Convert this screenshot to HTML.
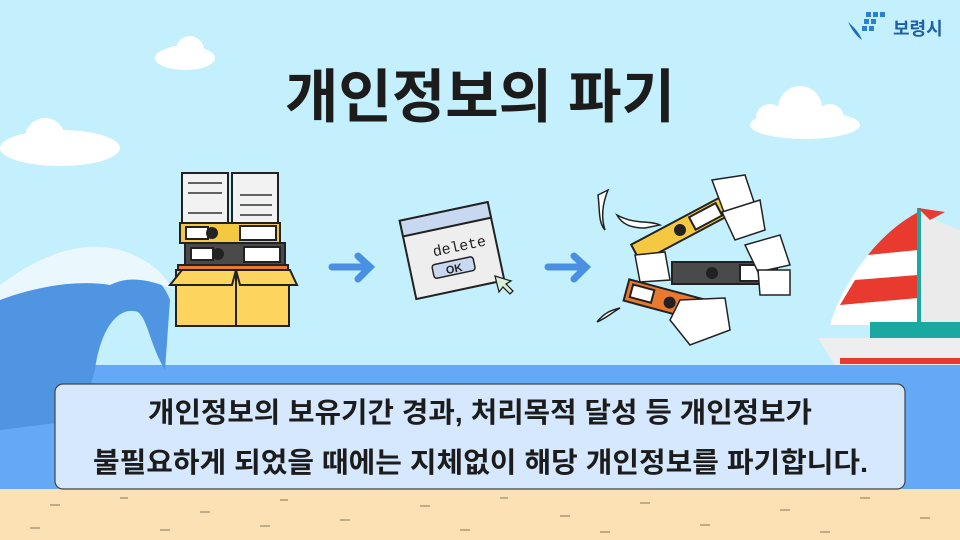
<!DOCTYPE html>
<html><head><meta charset="utf-8"><style>
html,body{margin:0;padding:0;width:960px;height:540px;overflow:hidden;background:#c4f0fd}
svg{display:block}
</style></head><body>
<svg width="960" height="540" viewBox="0 0 960 540" xmlns="http://www.w3.org/2000/svg" font-family="'Liberation Sans','Noto Sans CJK KR',sans-serif">
<rect width="960" height="540" fill="#c4f0fd"/>
<g fill="#ffffff">
<ellipse cx="185" cy="58" rx="30" ry="12"/><circle cx="190" cy="50" r="14"/><circle cx="175" cy="56" r="10"/>
<ellipse cx="805" cy="125" rx="55" ry="14"/><circle cx="800" cy="108" r="22"/><circle cx="830" cy="118" r="14"/><circle cx="770" cy="118" r="14"/>
<ellipse cx="60" cy="148" rx="60" ry="18"/><circle cx="45" cy="138" r="20"/><circle cx="80" cy="145" r="14"/>
</g>
<rect x="0" y="365" width="960" height="125" fill="#64a9f5"/>
<path d="M0 290 C40 250 90 240 130 260 C150 270 165 285 170 300 L165 370 C150 345 148 320 138 312 C118 305 100 330 95 370 L80 420 L0 430 Z" fill="#4f95e2"/>
<path d="M0 285 C40 255 80 240 120 250 C140 256 160 268 170 285 L175 290 C150 280 130 275 110 285 C80 280 40 285 0 300 Z" fill="#eaf8fe"/>
<rect x="0" y="489" width="960" height="51" fill="#fbe1b3"/>
<g stroke="#9c9070" stroke-width="1.3">
<line x1="50" y1="505" x2="60" y2="505"/><line x1="120" y1="498" x2="128" y2="498"/><line x1="200" y1="512" x2="210" y2="512"/><line x1="280" y1="500" x2="288" y2="500"/><line x1="340" y1="520" x2="350" y2="520"/><line x1="420" y1="506" x2="430" y2="506"/><line x1="500" y1="498" x2="508" y2="498"/><line x1="560" y1="516" x2="570" y2="516"/><line x1="640" y1="503" x2="650" y2="503"/><line x1="700" y1="525" x2="710" y2="525"/><line x1="780" y1="510" x2="790" y2="510"/><line x1="860" y1="498" x2="870" y2="498"/><line x1="920" y1="518" x2="930" y2="518"/><line x1="30" y1="528" x2="40" y2="528"/><line x1="160" y1="530" x2="170" y2="530"/><line x1="260" y1="526" x2="270" y2="526"/><line x1="460" y1="530" x2="470" y2="530"/><line x1="600" y1="532" x2="610" y2="532"/><line x1="820" y1="532" x2="830" y2="532"/>
</g>
<path d="M918 212 L918 325 L830 325 C840 290 870 240 918 212Z" fill="#ffffff"/>
<path d="M918 212 C895 225 880 240 868 255 L918 250Z M855 280 L918 275 L918 298 L840 305Z" fill="#e83a2e"/>
<path d="M922 215 L960 230 L960 325 L922 325Z" fill="#ebebeb"/>
<rect x="917" y="208" width="4" height="120" fill="#1aa8a0"/>
<path d="M918 208 L945 212 L930 220Z" fill="#e83a2e"/>
<rect x="870" y="322" width="90" height="16" fill="#1aa8a0"/>
<path d="M818 338 L960 338 L960 365 L835 365Z" fill="#eeeeee"/>
<rect x="840" y="358" width="120" height="6" fill="#e83a2e"/>
<path d="M848 22 C855 28 860 34 862 40 C856 36 852 30 848 22Z" fill="#1f6fb8"/>
<g fill="#2d7fd0"><rect x="866" y="12" width="5" height="5"/><rect x="873" y="12" width="5" height="5"/><rect x="880" y="12" width="5" height="5"/><rect x="864" y="19" width="5" height="5"/><rect x="871" y="19" width="5" height="5"/><rect x="862" y="26" width="5" height="5"/><rect x="869" y="26" width="5" height="5"/></g>
<text x="893" y="35" font-size="18" font-weight="bold" fill="#1f5fa8">보령시</text>
<text x="285" y="117" textLength="390" lengthAdjust="spacingAndGlyphs" font-size="58" font-weight="bold" fill="#1c1c1c">개인정보의 파기</text>
<g stroke="#222" stroke-width="2">
<rect x="182" y="173" width="46" height="50" fill="#f2f2f2"/><rect x="232" y="173" width="46" height="50" fill="#f2f2f2"/>
<rect x="180" y="223" width="100" height="20" fill="#f5c842"/>
<rect x="186" y="227" width="22" height="12" fill="#fff"/><circle cx="212" cy="233" r="5" fill="#222"/><rect x="240" y="226" width="36" height="14" fill="#fff"/>
<rect x="185" y="243" width="100" height="22" fill="#4a4a4a"/>
<rect x="191" y="248" width="22" height="12" fill="#fff"/><circle cx="218" cy="254" r="5" fill="#222"/><rect x="244" y="247" width="36" height="15" fill="#fff"/>
<rect x="178" y="265" width="110" height="8" fill="#e87a30"/>
<rect x="176" y="270" width="113" height="56" fill="#fcd45e"/>
<line x1="236" y1="270" x2="236" y2="326"/>
<path d="M170 285 L182 270 L236 270 L232 285Z M236 270 L290 270 L297 285 L240 285Z" fill="#fcd45e"/>
</g>
<g stroke="#333" stroke-width="1.5"><line x1="188" y1="183" x2="222" y2="183"/><line x1="188" y1="193" x2="222" y2="193"/><line x1="188" y1="213" x2="222" y2="213"/><line x1="240" y1="195" x2="272" y2="195"/><line x1="240" y1="205" x2="272" y2="205"/><line x1="240" y1="215" x2="272" y2="215"/></g>
<g stroke="#4a90e2" stroke-width="7" stroke-linecap="round" fill="none">
<path d="M332 267 L368 267 M358 256 L370 267 L358 279"/>
<path d="M548 267 L584 267 M574 256 L586 267 L574 279"/>
</g>
<g transform="rotate(-12 455 255)">
<rect x="408" y="210" width="90" height="80" fill="#eeeeee" stroke="#222" stroke-width="2"/>
<rect x="408" y="210" width="90" height="16" fill="#c8d8f0" stroke="#222" stroke-width="2"/>
<text x="434" y="252" font-size="15" font-family="'Liberation Mono',monospace" fill="#222">delete</text>
<rect x="430" y="260" width="42" height="14" rx="3" fill="#c8d8f0" stroke="#222" stroke-width="1.5"/>
<text x="443" y="272" font-size="11" font-weight="bold" fill="#222">OK</text>
</g>
<path d="M495 276 L499 292 L503 287 L510 294 L513 291 L506 284 L511 281Z" fill="#d8efd8" stroke="#222" stroke-width="1.3"/>
<g stroke="#222" stroke-width="2">
<g transform="rotate(-28 680 230)"><rect x="630" y="220" width="100" height="20" fill="#f5c842"/><rect x="694" y="223" width="30" height="14" fill="#fff"/><circle cx="680" cy="230" r="5" fill="#222"/></g>
<rect x="672" y="262" width="105" height="22" fill="#4a4a4a"/><rect x="740" y="265" width="32" height="16" fill="#fff"/><circle cx="712" cy="273" r="5" fill="#222"/>
<g transform="rotate(15 660 300)"><rect x="625" y="288" width="80" height="22" fill="#e87a30"/><rect x="630" y="292" width="22" height="13" fill="#fff"/><circle cx="670" cy="300" r="5" fill="#222"/></g>
</g>
<g fill="#fff" stroke="#222" stroke-width="1.5">
<path d="M712 180 L745 175 L755 205 L725 215Z"/><path d="M722 212 L760 200 L765 230 L735 240Z"/>
<path d="M635 255 L665 252 L670 280 L640 282Z"/><path d="M745 245 L780 235 L790 265 L758 272Z"/>
<path d="M758 270 L790 270 L790 295 L760 295Z"/><path d="M680 300 L725 298 L730 330 L690 345 L670 320Z"/>
<path d="M598 195 C600 210 598 222 605 230 C600 215 604 200 608 190Z"/>
<path d="M617 215 C635 225 650 220 660 225 L645 228 C630 228 622 224 617 215Z"/>
<path d="M597 322 C605 312 612 310 620 308 C610 314 606 318 597 322Z"/>
</g>
<rect x="55" y="384" width="850" height="105" rx="8" fill="#d5e8fd" stroke="#444" stroke-width="1.2"/>
<text x="148" y="422" textLength="664" lengthAdjust="spacingAndGlyphs" font-size="28" font-weight="bold" fill="#1c1c1c">개인정보의 보유기간 경과, 처리목적 달성 등 개인정보가</text>
<text x="93" y="472" textLength="775" lengthAdjust="spacingAndGlyphs" font-size="28" font-weight="bold" fill="#1c1c1c">불필요하게 되었을 때에는 지체없이 해당 개인정보를 파기합니다.</text>
</svg>
</body></html>
